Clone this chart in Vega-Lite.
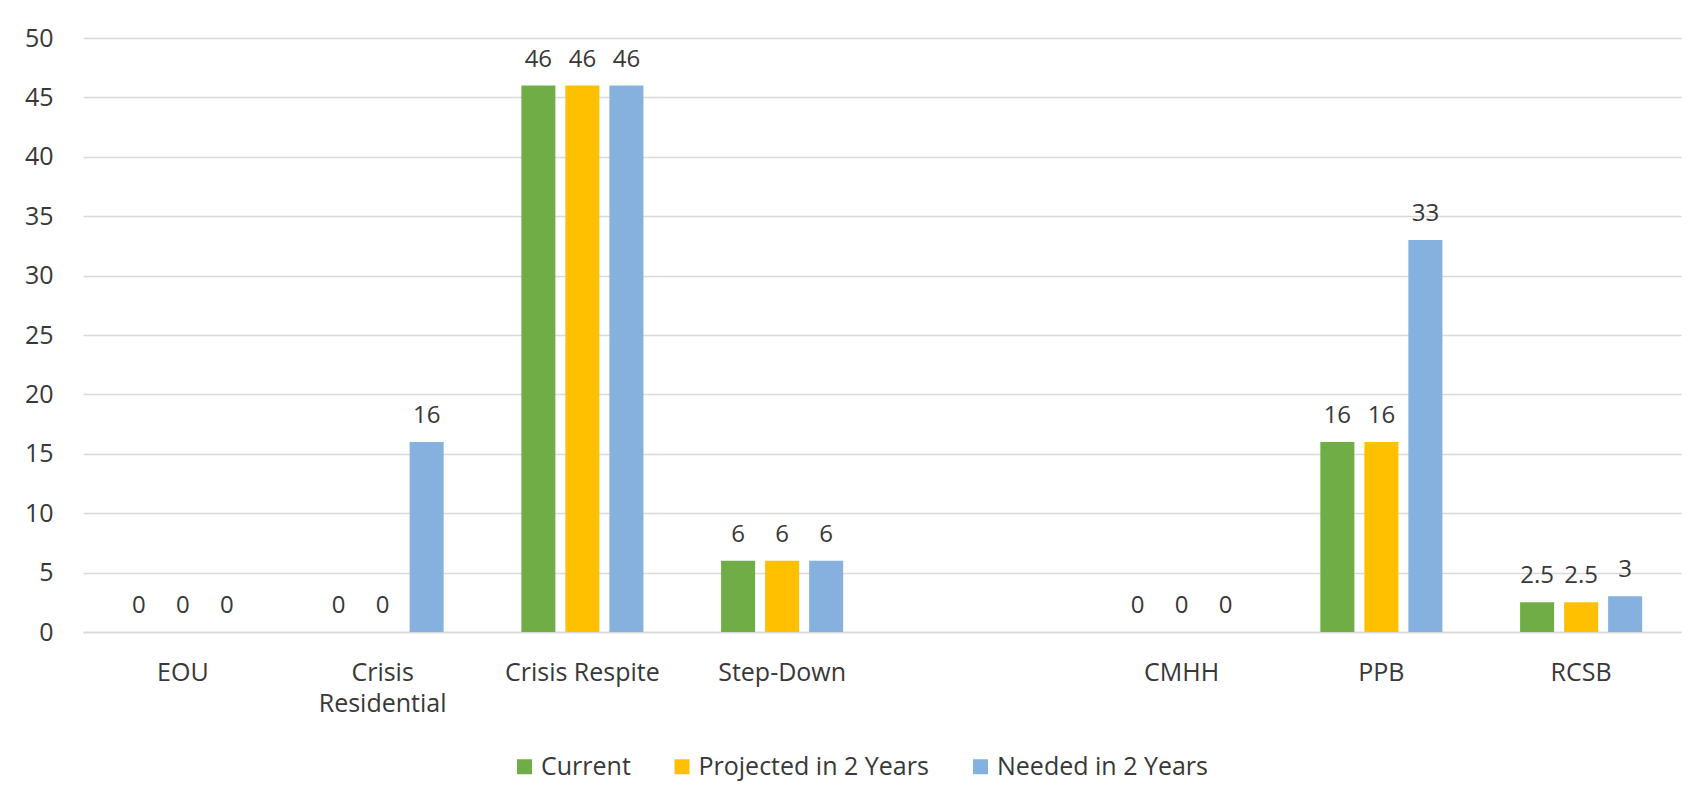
{
  "$schema": "https://vega.github.io/schema/vega-lite/v6.json",
  "width": 1598,
  "height": 594,
  "autosize": {"type": "none"},
  "padding": {"left": 83, "top": 38, "right": 19, "bottom": 172},
  "background": "white",
  "config": {
    "font": "Open Sans",
    "view": {"stroke": null}
  },
  "data": {
    "values": [
      {"category": "EOU", "series": "Current", "value": 0},
      {"category": "EOU", "series": "Projected in 2 Years", "value": 0},
      {"category": "EOU", "series": "Needed in 2 Years", "value": 0},
      {"category": "Crisis Residential", "series": "Current", "value": 0},
      {"category": "Crisis Residential", "series": "Projected in 2 Years", "value": 0},
      {"category": "Crisis Residential", "series": "Needed in 2 Years", "value": 16},
      {"category": "Crisis Respite", "series": "Current", "value": 46},
      {"category": "Crisis Respite", "series": "Projected in 2 Years", "value": 46},
      {"category": "Crisis Respite", "series": "Needed in 2 Years", "value": 46},
      {"category": "Step-Down", "series": "Current", "value": 6},
      {"category": "Step-Down", "series": "Projected in 2 Years", "value": 6},
      {"category": "Step-Down", "series": "Needed in 2 Years", "value": 6},
      {"category": "CMHH", "series": "Current", "value": 0},
      {"category": "CMHH", "series": "Projected in 2 Years", "value": 0},
      {"category": "CMHH", "series": "Needed in 2 Years", "value": 0},
      {"category": "PPB", "series": "Current", "value": 16},
      {"category": "PPB", "series": "Projected in 2 Years", "value": 16},
      {"category": "PPB", "series": "Needed in 2 Years", "value": 33},
      {"category": "RCSB", "series": "Current", "value": 2.5},
      {"category": "RCSB", "series": "Projected in 2 Years", "value": 2.5},
      {"category": "RCSB", "series": "Needed in 2 Years", "value": 3}
    ]
  },
  "encoding": {
    "x": {
      "field": "category",
      "type": "nominal",
      "scale": {
        "domain": ["EOU", "Crisis Residential", "Crisis Respite", "Step-Down", " ", "CMHH", "PPB", "RCSB"],
        "paddingInner": 0.389,
        "paddingOuter": 0.1945
      },
      "axis": {
        "title": null,
        "labelAngle": 0,
        "labelFontSize": 25,
        "labelColor": "#383838",
        "labelPadding": 28,
        "labelLineHeight": 31,
        "labelLimit": 400,
        "ticks": false,
        "tickSize": 0,
        "domain": true,
        "domainColor": "#D9D9D9",
        "domainWidth": 1.3,
        "grid": false,
        "labelExpr": "datum.label == 'Crisis Residential' ? ['Crisis', 'Residential'] : datum.label"
      }
    },
    "xOffset": {
      "field": "series",
      "type": "nominal",
      "scale": {
        "domain": ["Current", "Projected in 2 Years", "Needed in 2 Years"],
        "paddingInner": 0.227,
        "paddingOuter": 0
      }
    },
    "y": {
      "field": "value",
      "type": "quantitative",
      "scale": {"domain": [0, 50], "nice": false},
      "axis": {
        "title": null,
        "values": [0, 5, 10, 15, 20, 25, 30, 35, 40, 45, 50],
        "grid": true,
        "gridColor": "#D9D9D9",
        "gridWidth": 1.3,
        "domain": false,
        "ticks": false,
        "tickSize": 0,
        "labelPadding": 30,
        "labelFontSize": 25,
        "labelColor": "#383838"
      }
    }
  },
  "layer": [
    {
      "mark": {"type": "bar"},
      "encoding": {
        "color": {
          "field": "series",
          "type": "nominal",
          "scale": {
            "domain": ["Current", "Projected in 2 Years", "Needed in 2 Years"],
            "range": ["#70AD47", "#FFC000", "#86B1DE"]
          },
          "legend": {
            "title": null,
            "orient": "none",
            "direction": "horizontal",
            "legendX": 429,
            "legendY": 716,
            "symbolType": "square",
            "symbolSize": 225,
            "symbolStrokeWidth": 0,
            "labelFontSize": 25,
            "labelColor": "#383838",
            "labelOffset": 4,
            "columnPadding": 38.5,
            "padding": 0,
            "labelLimit": 400
          }
        }
      }
    },
    {
      "mark": {"type": "text", "baseline": "alphabetic", "dy": -19, "fontSize": 24, "color": "#383838"},
      "encoding": {
        "text": {"field": "value", "type": "quantitative"}
      }
    }
  ]
}
